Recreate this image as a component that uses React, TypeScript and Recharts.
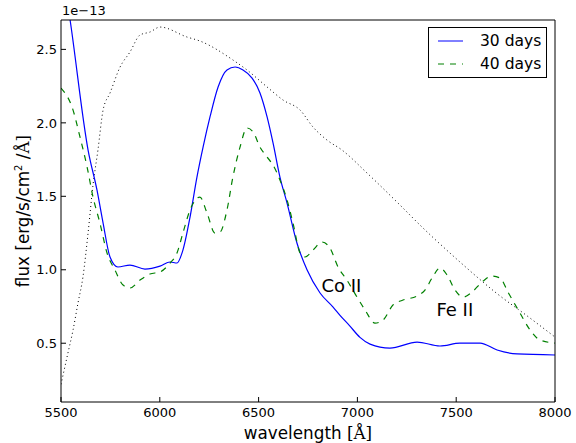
import React from 'react';
import { LineChart, Line, XAxis, YAxis, Label, ReferenceDot } from 'recharts';

// 30 days spectrum
const wave30 = [5500, 5546, 5637, 5682, 5713, 5748, 5788, 5849, 5925, 6001, 6052, 6087, 6117, 6153, 6188, 6219, 6254, 6295, 6340, 6381, 6421, 6467, 6507, 6543, 6573, 6608, 6644, 6694, 6745, 6811, 6877, 6912, 6960, 7013, 7064, 7165, 7302, 7418, 7519, 7621, 7707, 7808, 8000];
const flux30 = [3.1, 2.7, 1.815, 1.543, 1.318, 1.087, 1.019, 1.032, 1.005, 1.025, 1.053, 1.046, 1.134, 1.359, 1.631, 1.835, 2.04, 2.244, 2.36, 2.38, 2.36, 2.305, 2.203, 2.04, 1.863, 1.631, 1.454, 1.182, 1.0, 0.842, 0.746, 0.69, 0.62, 0.54, 0.494, 0.467, 0.508, 0.481, 0.501, 0.501, 0.454, 0.427, 0.42];

// 40 days spectrum
const wave40 = [5500, 5561, 5596, 5632, 5662, 5697, 5733, 5773, 5814, 5849, 5900, 5950, 6001, 6052, 6087, 6117, 6153, 6203, 6239, 6279, 6305, 6340, 6370, 6406, 6441, 6472, 6507, 6543, 6573, 6608, 6644, 6674, 6710, 6735, 6775, 6821, 6861, 6902, 6947, 6998, 7039, 7089, 7130, 7180, 7231, 7302, 7342, 7378, 7418, 7454, 7494, 7535, 7580, 7631, 7681, 7722, 7762, 7823, 7874, 7924, 8000];
const flux40 = [2.237, 2.087, 1.904, 1.7, 1.495, 1.318, 1.114, 0.998, 0.896, 0.876, 0.93, 0.971, 0.985, 1.046, 1.114, 1.25, 1.407, 1.495, 1.386, 1.25, 1.257, 1.407, 1.631, 1.835, 1.965, 1.938, 1.835, 1.767, 1.713, 1.611, 1.475, 1.318, 1.114, 1.087, 1.134, 1.189, 1.148, 1.019, 0.93, 0.814, 0.726, 0.637, 0.658, 0.76, 0.794, 0.821, 0.862, 0.944, 1.012, 0.964, 0.862, 0.814, 0.848, 0.917, 0.957, 0.944, 0.848, 0.705, 0.59, 0.522, 0.501];

// dotted reference curve
const waveRef = [5500, 5535, 5561, 5586, 5611, 5637, 5662, 5687, 5713, 5748, 5799, 5849, 5900, 5950, 6001, 6138, 6203, 6370, 6441, 6543, 6624, 6710, 6775, 6846, 6922, 7049, 7216, 7317, 7519, 7697, 7874, 8000];
const fluxRef = [0.22, 0.433, 0.59, 0.774, 0.95, 1.25, 1.577, 1.815, 2.087, 2.203, 2.38, 2.482, 2.598, 2.618, 2.652, 2.584, 2.557, 2.428, 2.36, 2.244, 2.155, 2.087, 1.972, 1.883, 1.815, 1.658, 1.44, 1.304, 1.053, 0.848, 0.671, 0.542];

const xTicks = [5500, 6000, 6500, 7000, 7500, 8000];
const yTicks = [0.5, 1.0, 1.5, 2.0, 2.5];

const toPoints = (w: number[], f: number[]) => w.map((x, i) => ({ x, y: f[i] }));
const data30 = toPoints(wave30, flux30);
const data40 = toPoints(wave40, flux40);
const dataRef = toPoints(waveRef, fluxRef);

const FONT = 'DejaVu Sans';
const TICK = 5;

const legendItems = [
	{ name: '30 days', color: '#0000ff', dash: undefined },
	{ name: '40 days', color: '#008000', dash: '6 6' },
];

const LeftTick = (p: any) => (
	<g>
		<line x1={p.x} x2={p.x + TICK} y1={p.y} y2={p.y} stroke="#000" />
		<text x={p.x - 4} y={p.y} dy="0.36em" textAnchor="end" fontSize={13} fontFamily={FONT} fill="#000">
			{p.payload.value.toFixed(1)}
		</text>
	</g>
);
const RightTick = (p: any) => <line x1={p.x - TICK} x2={p.x} y1={p.y} y2={p.y} stroke="#000" />;
const BottomTick = (p: any) => (
	<g>
		<line x1={p.x} x2={p.x} y1={p.y} y2={p.y - TICK} stroke="#000" />
		<text x={p.x} y={p.y + 15} textAnchor="middle" fontSize={13} fontFamily={FONT} fill="#000">
			{p.payload.value}
		</text>
	</g>
);
const TopTick = (p: any) => <line x1={p.x} x2={p.x} y1={p.y} y2={p.y + TICK} stroke="#000" />;

const LegendBox = () => (
	<div style={{ position: 'absolute', left: 428, top: 27, width: 117, height: 49, border: '1px solid #000', background: '#fff', fontFamily: FONT, fontSize: 15.5 }}>
		{legendItems.map((it, i) => (
			<div key={it.name} style={{ position: 'absolute', left: 0, top: 3 + i * 23, height: 20, display: 'flex', alignItems: 'center' }}>
				<svg width={44} height={20}>
					<line x1={9} x2={34} y1={10} y2={10} stroke={it.color} strokeDasharray={it.dash} />
				</svg>
				<span style={{ marginLeft: 7, color: '#000' }}>{it.name}</span>
			</div>
		))}
	</div>
);

export default function App() {
	return (
		<div style={{ position: 'absolute', left: 0, top: 0, width: 576, height: 443, background: '#fff' }}>
			<LineChart width={576} height={443} margin={{ top: 19, right: 20, bottom: 40, left: 60 }}>
				<XAxis dataKey="x" type="number" domain={[5500, 8000]} ticks={xTicks} interval={0} height={1}
					tickSize={0} tickMargin={0} tick={BottomTick} stroke="#000" allowDataOverflow>
					<Label content={() => (
						<text x={308} y={439} textAnchor="middle" fontSize={16.8} fontFamily={FONT} fill="#000">
							wavelength <tspan fontFamily="DejaVu Serif">[Å]</tspan>
						</text>
					)} />
				</XAxis>
				<XAxis xAxisId="top" orientation="top" type="number" domain={[5500, 8000]} ticks={xTicks} interval={0}
					height={1} tickSize={0} tickMargin={0} tick={TopTick} stroke="#000" />
				<YAxis type="number" domain={[0.1, 2.7]} ticks={yTicks} interval={0} width={1} tickSize={0} tickMargin={0}
					tick={LeftTick} stroke="#000" allowDataOverflow>
					<Label content={() => (
						<text transform="translate(29,211) rotate(-90)" textAnchor="middle" fontSize={16.8} fontFamily={FONT} fill="#000">
							flux [erg/s/cm<tspan fontSize={10} dy={-7}>2</tspan><tspan dy={7}> /</tspan><tspan fontFamily="DejaVu Serif">Å]</tspan>
						</text>
					)} />
				</YAxis>
				<YAxis yAxisId="right" orientation="right" type="number" domain={[0.1, 2.7]} ticks={yTicks} interval={0}
					width={1} tickSize={0} tickMargin={0} tick={RightTick} stroke="#000" />
				<Line data={dataRef} dataKey="y" type="monotone" stroke="#000" strokeWidth={1} strokeDasharray="1 3"
					dot={false} legendType="none" isAnimationActive={false} />
				<Line data={data30} dataKey="y" name="30 days" type="monotone" stroke="#0000ff" strokeWidth={1.2}
					dot={false} isAnimationActive={false} />
				<Line data={data40} dataKey="y" name="40 days" type="monotone" stroke="#008000" strokeWidth={1.2}
					strokeDasharray="6 6" dot={false} isAnimationActive={false} />
				<ReferenceDot x={6919} y={0.89} r={0} fill="none" stroke="none"
					label={{ value: 'Co II', position: 'center', fontSize: 18, fontFamily: FONT, fill: '#000' }} />
				<ReferenceDot x={7493} y={0.726} r={0} fill="none" stroke="none"
					label={{ value: 'Fe II', position: 'center', fontSize: 18, fontFamily: FONT, fill: '#000' }} />
			</LineChart>
			<LegendBox />
			<div style={{ position: 'absolute', left: 62, top: 3, fontFamily: FONT, fontSize: 13, color: '#000' }}>1e−13</div>
		</div>
	);
}
